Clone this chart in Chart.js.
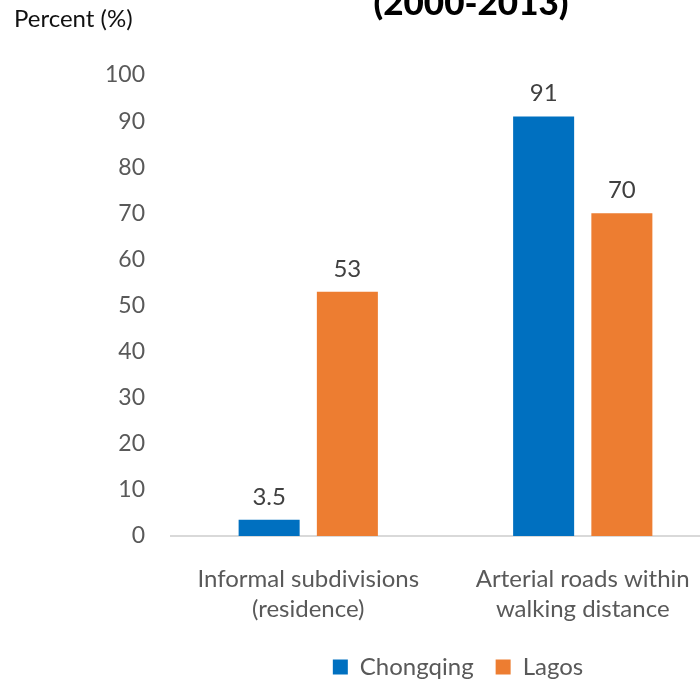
<!DOCTYPE html>
<html>
<head>
<meta charset="utf-8">
<script src="https://cdn.jsdelivr.net/npm/chart.js@4/dist/chart.umd.min.js"></script>
<style>
  html, body { margin: 0; padding: 0; background: #fff; overflow: hidden; }
  #wrap { position: relative; width: 700px; height: 682px; overflow: hidden; }
  #wrap canvas { position: absolute; left: 0; top: 0; }
</style>
</head>
<body>
<div id="wrap"><canvas id="barChart" width="720" height="682"></canvas></div>
<script>
const categories = [
  ["Informal subdivisions", "(residence)"],
  ["Arterial roads within", "walking distance"]
];
const seriesNames = ["Chongqing", "Lagos"];
const chongqing = [3.5, 91];
const lagos = [53, 70];
const seriesColors = ["#0070C0", "#ED7D31"];
const titleText = "(2000-2013)";
const unitText = "Percent (%)";

const FONT = "Lato, 'Open Sans', sans-serif";

// value labels above each bar + header texts
const barLabels = {
  id: "barLabels",
  afterDatasetsDraw(chart) {
    const ctx = chart.ctx;
    ctx.save();
    ctx.font = "24px " + FONT;
    ctx.fillStyle = "#404040";
    ctx.textAlign = "center";
    ctx.textBaseline = "alphabetic";
    chart.data.datasets.forEach((ds, i) => {
      chart.getDatasetMeta(i).data.forEach((bar, j) => {
        ctx.fillText(String(ds.data[j]), bar.x, bar.y - 15);
      });
    });

    ctx.fillStyle = "#000";
    ctx.font = "900 35px " + FONT;
    ctx.fillText(titleText, 471, 15);

    ctx.textAlign = "left";
    ctx.fillStyle = "#111";
    ctx.font = "24px " + FONT;
    ctx.fillText(unitText, 14, 27);
    ctx.restore();
  }
};

// legend sits under the right part of the plot
const legendShift = {
  id: "legendShift",
  afterLayout(chart) {
    const lg = chart.legend;
    const dx = 98, dy = -5;
    lg.left += dx; lg.right += dx;
    lg.top += dy; lg.bottom += dy;
  }
};

new Chart(document.getElementById("barChart"), {
  type: "bar",
  data: {
    labels: categories,
    datasets: [
      {
        label: seriesNames[0],
        data: chongqing,
        backgroundColor: seriesColors[0],
        categoryPercentage: 0.57,
        barPercentage: 0.78
      },
      {
        label: seriesNames[1],
        data: lagos,
        backgroundColor: seriesColors[1],
        categoryPercentage: 0.57,
        barPercentage: 0.78
      }
    ]
  },
  options: {
    responsive: false,
    animation: false,
    layout: { padding: { top: 75, right: 0, left: 0, bottom: -12 } },
    plugins: {
      title: { display: false },
      tooltip: { enabled: false },
      legend: {
        position: "bottom",
        labels: {
          boxWidth: 15,
          boxHeight: 15,
          padding: 22,
          color: "#595959",
          font: { family: FONT, size: 24 }
        }
      }
    },
    scales: {
      x: {
        grid: { display: false, drawTicks: false },
        border: { display: true, color: "#D9D9D9", width: 2 },
        ticks: {
          color: "#595959",
          padding: 28,
          font: { family: FONT, size: 24, lineHeight: 1.25 },
          maxRotation: 0
        },
        afterFit(scale) { scale.height = 102; }
      },
      y: {
        min: 0,
        max: 100,
        grid: { display: false, drawTicks: false },
        border: { display: false },
        ticks: {
          stepSize: 10,
          color: "#595959",
          padding: 26,
          font: { family: FONT, size: 23 }
        },
        afterFit(scale) { scale.width = 171; }
      }
    }
  },
  plugins: [barLabels, legendShift]
});
</script>
</body>
</html>
